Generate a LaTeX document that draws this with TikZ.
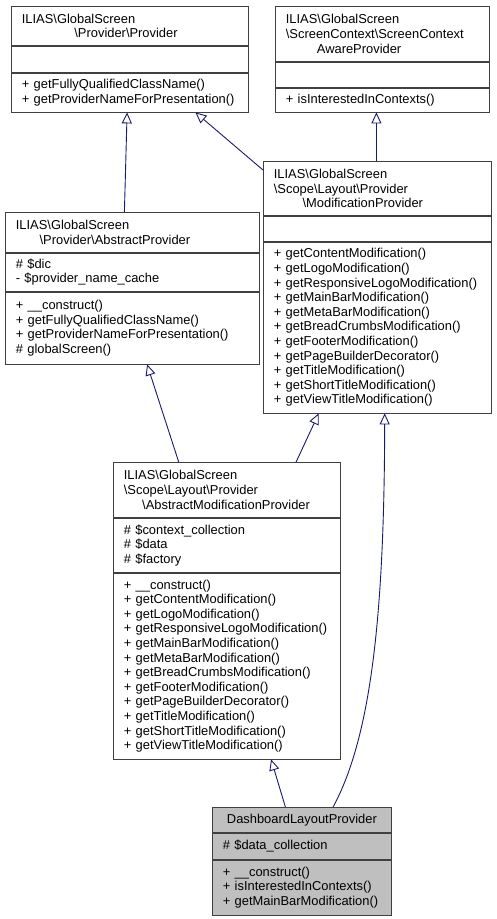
\documentclass[tikz,border=0pt]{standalone}
\usepackage{fontspec}
\setmainfont{Liberation Sans}
\definecolor{edgeblue}{RGB}{25,25,112}
\definecolor{classgray}{RGB}{191,191,191}
\newcommand{\umltext}{\fontsize{12.9pt}{14.6pt}\selectfont}
\newcommand{\bs}{\textbackslash}
\usetikzlibrary{positioning}
\usetikzlibrary{arrows.meta}
\tikzset{
  classpart/.style={draw=black!75, line width=0.8pt, inner xsep=10.5pt, inner ysep=0pt,
    align=left, text width=#1, font=\umltext},
  inherit/.style={draw=edgeblue, line width=0.9pt,
    -{Triangle[open, length=11pt, width=10pt]}},
}

\begin{document}
\begin{tikzpicture}[x=1pt, y=-1pt]
  \useasboundingbox (0,0) rectangle (496,919);

  % Provider
  \node [classpart=216pt, anchor=north west, minimum height=39pt] (prov) at (11,6)
    {ILIAS\bs GlobalScreen\\\hspace*{52.5pt}\bs Provider\bs Provider};
  \node [classpart=216pt, minimum height=26pt, below=0pt of prov] (prov-a) {};
  \node [classpart=216pt, minimum height=39pt, below=0pt of prov-a] (prov-m)
    {+ getFullyQualifiedClassName()\\+ getProviderNameForPresentation()};

  % ScreenContextAwareProvider
  \node [classpart=193pt, anchor=north west, minimum height=55pt] (aware) at (275,6)
    {ILIAS\bs GlobalScreen\\\bs ScreenContext\bs ScreenContext\\\hspace*{31pt}AwareProvider};
  \node [classpart=193pt, minimum height=25pt, below=0pt of aware] (aware-a) {};
  \node [classpart=193pt, minimum height=24pt, below=0pt of aware-a] (aware-m)
    {+ isInterestedInContexts()};

  % AbstractProvider
  \node [classpart=233pt, anchor=north west, minimum height=40pt] (absprov) at (5,212)
    {ILIAS\bs GlobalScreen\\\hspace*{23.7pt}\bs Provider\bs AbstractProvider};
  \node [classpart=233pt, minimum height=38pt, below=0pt of absprov] (absprov-a)
    {\# \$dic\\- \$provider\_name\_cache};
  \node [classpart=233pt, minimum height=72pt, below=0pt of absprov-a] (absprov-m)
    {+ \_\_construct()\\+ getFullyQualifiedClassName()\\+ getProviderNameForPresentation()\\\# globalScreen()};

  % ModificationProvider
  \node [classpart=207pt, anchor=north west, minimum height=54pt] (modprov) at (263,161)
    {ILIAS\bs GlobalScreen\\\bs Scope\bs Layout\bs Provider\\\hspace*{28.7pt}\bs ModificationProvider};
  \node [classpart=207pt, minimum height=25pt, below=0pt of modprov] (modprov-a) {};
  \node [classpart=207pt, minimum height=171pt, below=0pt of modprov-a] (modprov-m)
    {+ getContentModification()\\+ getLogoModification()\\+ getResponsiveLogoModification()\\%
     + getMainBarModification()\\+ getMetaBarModification()\\+ getBreadCrumbsModification()\\%
     + getFooterModification()\\+ getPageBuilderDecorator()\\+ getTitleModification()\\%
     + getShortTitleModification()\\+ getViewTitleModification()};

  % AbstractModificationProvider
  \node [classpart=206pt, anchor=north west, minimum height=55pt] (absmod) at (113,462)
    {ILIAS\bs GlobalScreen\\\bs Scope\bs Layout\bs Provider\\\hspace*{18.3pt}\bs AbstractModificationProvider};
  \node [classpart=206pt, minimum height=54pt, below=0pt of absmod] (absmod-a)
    {\# \$context\_collection\\\# \$data\\\# \$factory};
  \node [classpart=206pt, minimum height=186pt, below=0pt of absmod-a] (absmod-m)
    {+ \_\_construct()\\+ getContentModification()\\+ getLogoModification()\\%
     + getResponsiveLogoModification()\\+ getMainBarModification()\\+ getMetaBarModification()\\%
     + getBreadCrumbsModification()\\+ getFooterModification()\\+ getPageBuilderDecorator()\\%
     + getTitleModification()\\+ getShortTitleModification()\\+ getViewTitleModification()};

  % DashboardLayoutProvider
  \begin{scope}[every node/.append style={fill=classgray}]
    \node [classpart=158pt, anchor=north west, minimum height=25pt, align=center] (dash) at (212,807)
      {DashboardLayoutProvider};
    \node [classpart=158pt, minimum height=26pt, below=0pt of dash] (dash-a)
      {\# \$data\_collection};
    \node [classpart=158pt, minimum height=55pt, below=0pt of dash-a] (dash-m)
      {+ \_\_construct()\\+ isInterestedInContexts()\\+ getMainBarModification()};
  \end{scope}

  % inheritance
  \draw [inherit] ([xshift=-8pt]absprov.north) -- ([xshift=-2.8pt]prov-m.south);
  \draw [inherit] ([yshift=-9pt]modprov.north west) -- ([xshift=65.5pt]prov-m.south);
  \draw [inherit] ([xshift=-1pt]modprov.north) -- ([xshift=-6pt]aware-m.south);
  \draw [inherit] ([xshift=-48.2pt]absmod.north) -- ([xshift=14.7pt]absprov-m.south);
  \draw [inherit] ([xshift=69.2pt]absmod.north) -- ([xshift=-58.7pt]modprov-m.south);
  \draw [inherit] ([xshift=-16.5pt]dash.north) -- ([xshift=44.2pt]absmod-m.south);
  \draw [inherit] ([xshift=31.2pt]dash.north) .. controls (372,735) and (384.3,610) .. ([xshift=7.3pt]modprov-m.south);
\end{tikzpicture}
\end{document}
